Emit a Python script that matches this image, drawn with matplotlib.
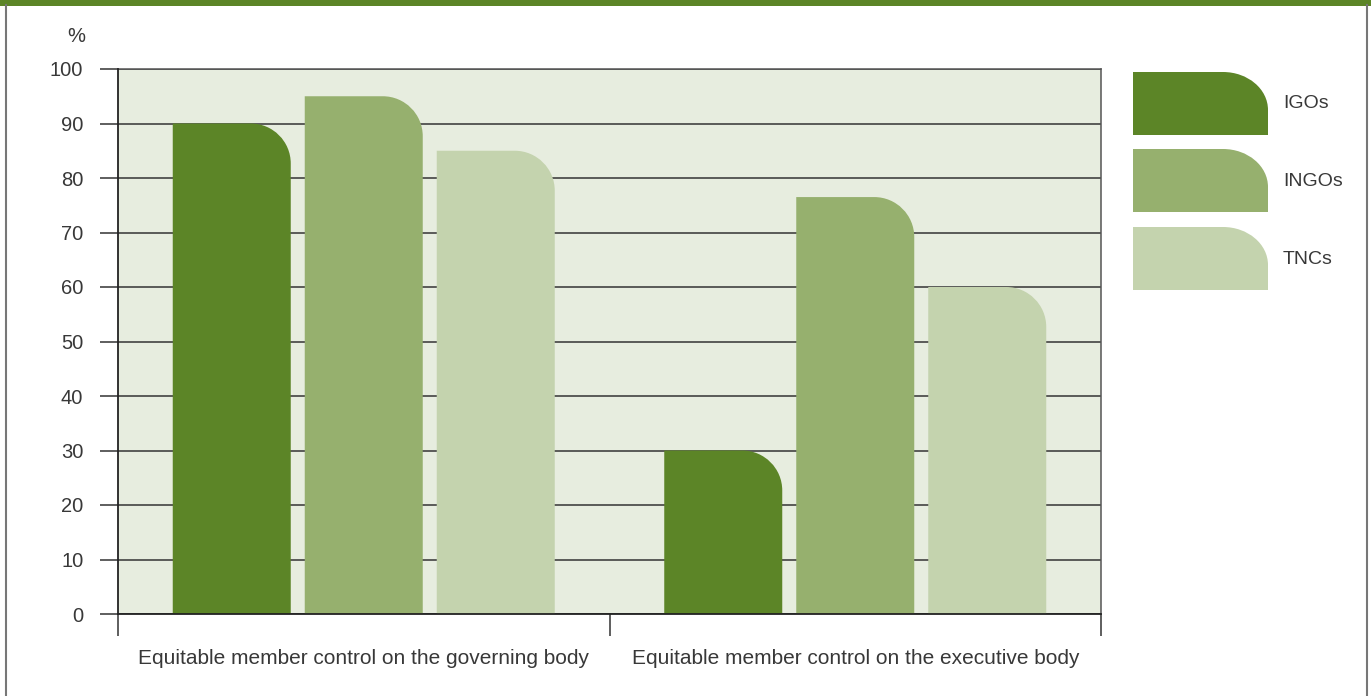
import matplotlib
matplotlib.use("Agg")
import matplotlib.pyplot as plt
from matplotlib.path import Path
from matplotlib.patches import PathPatch, Rectangle
from matplotlib.lines import Line2D

plt.rcParams['font.family'] = ['Liberation Sans', 'DejaVu Sans']

categories = ['Equitable member control on the governing body',
              'Equitable member control on the executive body']
series = ['IGOs', 'INGOs', 'TNCs']
igos = [90, 30]
ingos = [95, 76.5]
tncs = [85, 60]
colors = ['#5c8527', '#96b06e', '#c4d3ae']
yticks = [0, 10, 20, 30, 40, 50, 60, 70, 80, 90, 100]

W, H = 1371, 696
TEXT = '#383838'


def rounded_bar(x0, x1, y0, y1, rx, ry):
    # rectangle with only the top-right corner rounded (quarter ellipse)
    k = 0.5523
    rx = min(rx, x1 - x0)
    ry = min(ry, y1 - y0)
    verts = [(x0, y0), (x0, y1), (x1 - rx, y1),
             (x1 - rx + k * rx, y1), (x1, y1 - ry + k * ry), (x1, y1 - ry),
             (x1, y0), (x0, y0)]
    codes = [Path.MOVETO, Path.LINETO, Path.LINETO,
             Path.CURVE4, Path.CURVE4, Path.CURVE4,
             Path.LINETO, Path.CLOSEPOLY]
    return Path(verts, codes)


fig = plt.figure(figsize=(W / 100, H / 100), dpi=100)

# frame / decorations in pixel coordinates
deco = fig.add_axes([0, 0, 1, 1], zorder=0)
deco.set_xlim(0, W)
deco.set_ylim(H, 0)
deco.axis('off')
deco.add_patch(Rectangle((0, 0), W, 5.5, color='#5c8527', lw=0))
deco.add_line(Line2D([6, 6], [5, H], color='#777777', lw=1.5))
deco.add_line(Line2D([1367, 1367], [5, H], color='#777777', lw=1.5))

# plot area
left, right, top, bottom = 118, 1101, 69, 614
ax = fig.add_axes([left / W, (H - bottom) / H, (right - left) / W, (bottom - top) / H], zorder=1)
ax.set_facecolor('#e7eddf')
ax.set_xlim(0, 2)
ax.set_ylim(0, 100)

px_x = 2 / (right - left)
px_y = 100 / (bottom - top)
bar_w = 118 * px_x
step = 132 * px_x

for i, (name, vals, c) in enumerate(zip(series, [igos, ingos, tncs], colors)):
    for j, v in enumerate(vals):
        cx = j + 0.5 + (i - 1) * step
        p = rounded_bar(cx - bar_w / 2, cx + bar_w / 2, 0, v, 40 * px_x, 40 * px_y)
        ax.add_patch(PathPatch(p, facecolor=c, edgecolor='none', zorder=2))

ax.set_yticks(yticks)
ax.set_yticklabels([str(t) for t in yticks])
ax.grid(axis='y', color='#333333', lw=1.1, zorder=1)
ax.set_axisbelow(True)
ax.tick_params(axis='y', length=13, width=1.1, color='#333333', pad=12,
               labelsize=14.5, labelcolor=TEXT)

ax.set_xticks([0, 1, 2])
ax.set_xticklabels([])
ax.set_xticks([0.5, 1.5], minor=True)
ax.set_xticklabels(categories, minor=True)
ax.tick_params(axis='x', which='major', length=16, width=1.1, color='#333333')
ax.tick_params(axis='x', which='minor', length=0, pad=25, labelsize=15, labelcolor=TEXT)

for s in ['left', 'bottom']:
    ax.spines[s].set_color('#222222')
    ax.spines[s].set_linewidth(1.3)
    ax.spines[s].set_zorder(3)
for s in ['top', 'right']:
    ax.spines[s].set_color('#555555')
    ax.spines[s].set_linewidth(1.1)

fig.text(76 / W, 1 - 37 / H, '%', ha='center', va='center', fontsize=14.5, color=TEXT)

# legend
leg_tops = [72, 149, 227]
for name, c, ty in zip(series, colors, leg_tops):
    p = rounded_bar(1133, 1268, -(ty + 63), -ty, 45, 38)
    verts = [(x, -y) for x, y in p.vertices]
    deco.add_patch(PathPatch(Path(verts, p.codes), facecolor=c, edgecolor='none'))
    deco.text(1283, ty + 32, name, ha='left', va='center', fontsize=14, color=TEXT)

fig.savefig('out.png', dpi=100)
